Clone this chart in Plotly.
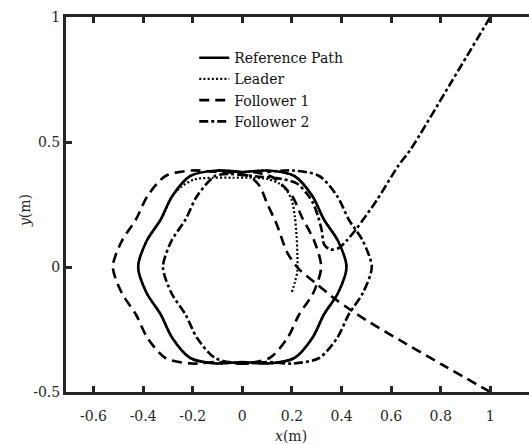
import plotly.graph_objects as go

# ---------------- data ----------------
ref_x = [0.000, -0.104, -0.210, -0.283, -0.329, -0.386, -0.420, -0.386, -0.329, -0.283,
         -0.210, -0.104, 0.000, 0.104, 0.210, 0.283, 0.329, 0.386, 0.420, 0.386,
         0.329, 0.283, 0.210, 0.104, 0.000, -0.104]
ref_y = [0.380, 0.386, 0.364, 0.283, 0.190, 0.104, 0.000, -0.104, -0.190, -0.283,
         -0.364, -0.386, -0.380, -0.386, -0.364, -0.283, -0.190, -0.104, 0.000, 0.104,
         0.190, 0.283, 0.364, 0.386, 0.380, 0.386]

leader_x = [0.200, 0.212, 0.222, 0.222, 0.219, 0.212, 0.200, 0.180, 0.150, 0.100,
            0.040, -0.040, -0.120, -0.195, -0.250, -0.283, -0.329, -0.386, -0.420, -0.386,
            -0.329, -0.283, -0.210, -0.104, 0.000, 0.104, 0.210, 0.283, 0.329, 0.386,
            0.420, 0.386, 0.329, 0.283, 0.210, 0.104, 0.000]
leader_y = [-0.100, -0.060, -0.015, 0.050, 0.120, 0.200, 0.265, 0.305, 0.333, 0.352,
            0.357, 0.357, 0.357, 0.350, 0.318, 0.283, 0.190, 0.104, 0.000, -0.104,
            -0.190, -0.283, -0.364, -0.386, -0.380, -0.386, -0.364, -0.283, -0.190, -0.104,
            0.000, 0.104, 0.190, 0.283, 0.364, 0.386, 0.380]

f1_x = [1.000, 0.810, 0.636, 0.500, 0.434, 0.374, 0.300, 0.225, 0.180, 0.139,
        0.100, 0.071, 0.030, -0.020, -0.100, -0.204, -0.310, -0.383, -0.429, -0.486,
        -0.522, -0.486, -0.429, -0.383, -0.310, -0.204, -0.100, 0.004, 0.110, 0.183,
        0.229, 0.286, 0.318, 0.290, 0.240, 0.200, 0.120, 0.030]
f1_y = [-0.500, -0.393, -0.293, -0.213, -0.170, -0.128, -0.068, -0.005, 0.060, 0.170,
        0.254, 0.322, 0.362, 0.376, 0.380, 0.386, 0.364, 0.283, 0.190, 0.104,
        0.000, -0.104, -0.190, -0.283, -0.364, -0.386, -0.380, -0.386, -0.364, -0.283,
        -0.190, -0.104, 0.000, 0.104, 0.200, 0.285, 0.360, 0.382]

f2_x = [1.000, 0.840, 0.677, 0.629, 0.542, 0.461, 0.420, 0.387, 0.354, 0.330,
        0.320, 0.306, 0.286, 0.260, 0.220, 0.160, 0.080, 0.000, -0.050, -0.110,
        -0.183, -0.229, -0.286, -0.320, -0.286, -0.229, -0.183, -0.110, -0.004, 0.100,
        0.204, 0.310, 0.383, 0.429, 0.486, 0.522, 0.486, 0.429, 0.383, 0.310,
        0.204, 0.100]
f2_y = [1.000, 0.735, 0.468, 0.405, 0.267, 0.154, 0.105, 0.075, 0.070, 0.090,
        0.147, 0.200, 0.254, 0.294, 0.334, 0.352, 0.360, 0.368, 0.372, 0.364,
        0.283, 0.190, 0.104, 0.000, -0.104, -0.190, -0.283, -0.364, -0.386, -0.380,
        -0.386, -0.364, -0.283, -0.190, -0.104, 0.000, 0.104, 0.190, 0.283, 0.364,
        0.386, 0.380]

series_names = ["Reference Path", "Leader", "Follower 1", "Follower 2"]

x_ticks = [-0.6, -0.4, -0.2, 0, 0.2, 0.4, 0.6, 0.8, 1]
x_tick_labels = ["-0.6", "-0.4", "-0.2", "0", "0.2", "0.4", "0.6", "0.8", "1"]
y_ticks = [-0.5, 0, 0.5, 1]
y_tick_labels = ["-0.5", "0", "0.5", "1"]

# ---------------- figure ----------------
FONT = "DejaVu Serif"
AX = "#262626"

fig = go.Figure()
styles = [
    dict(dash="solid", width=2.6),
    dict(dash="2px,2.2px", width=2.2),
    dict(dash="10px,6px", width=2.6),
    dict(dash="9px,3px,3px,3px", width=2.6),
]
data = [(ref_x, ref_y), (leader_x, leader_y), (f1_x, f1_y), (f2_x, f2_y)]
for (xs, ys), name, st in zip(data, series_names, styles):
    fig.add_trace(go.Scatter(
        x=xs, y=ys, mode="lines", name=name, hoverinfo="skip",
        line=dict(color="black", width=st["width"], dash=st["dash"], shape="spline", smoothing=0.8),
    ))

fig.update_layout(
    width=529, height=445,
    margin=dict(l=66, r=0, t=17, b=53, autoexpand=False),
    paper_bgcolor="white", plot_bgcolor="white",
    hovermode=False, dragmode=False,
    font=dict(family=FONT, size=14, color=AX),
    showlegend=True,
    legend=dict(
        x=0.277, y=0.933, xanchor="left", yanchor="top",
        bgcolor="rgba(0,0,0,0)", borderwidth=0,
        font=dict(family=FONT, size=14, color="#111"),
        tracegroupgap=0, itemwidth=30,
    ),
    xaxis=dict(
        range=[-0.711, 1.156], tickvals=x_ticks, ticktext=x_tick_labels,
        showgrid=False, zeroline=False, automargin=False, showspikes=False,
        showline=True, linecolor=AX, linewidth=3, mirror="ticks",
        ticks="inside", ticklen=6, tickwidth=3, tickcolor=AX,
        ticklabelstandoff=9,
        tickfont=dict(family=FONT, size=14, color=AX),
    ),
    yaxis=dict(
        range=[-0.5, 1.0], tickvals=y_ticks, ticktext=y_tick_labels,
        showgrid=False, zeroline=False, automargin=False, showspikes=False,
        showline=True, linecolor=AX, linewidth=3, mirror=False,
        ticks="inside", ticklen=6, tickwidth=3, tickcolor=AX,
        tickfont=dict(family=FONT, size=14, color=AX),
    ),
    shapes=[
        # hide the stray vertical edge line at the (cropped) right side of the axes box
        dict(type="rect", xref="paper", yref="paper", x0=0.989, x1=1.0, y0=0.0055, y1=0.9945,
             fillcolor="white", line=dict(width=0), layer="above"),
    ],
    annotations=[
        dict(text="<i>x</i>(m)", xref="paper", yref="paper", x=0.486, y=-0.117,
             xanchor="center", yanchor="middle", showarrow=False,
             font=dict(family=FONT, size=14, color=AX)),
        dict(text="<i>y</i>(m)", xref="paper", yref="paper", x=-0.0886, y=0.485,
             xanchor="center", yanchor="middle", showarrow=False, textangle=-90,
             font=dict(family=FONT, size=14, color=AX)),
    ],
)

fig.write_html(
    "out.html",
    config={"displayModeBar": False, "responsive": False, "staticPlot": True},
    post_script=("document.body.style.margin='0';document.body.style.overflow='hidden';"
                 "document.documentElement.style.overflow='hidden';"),
)
